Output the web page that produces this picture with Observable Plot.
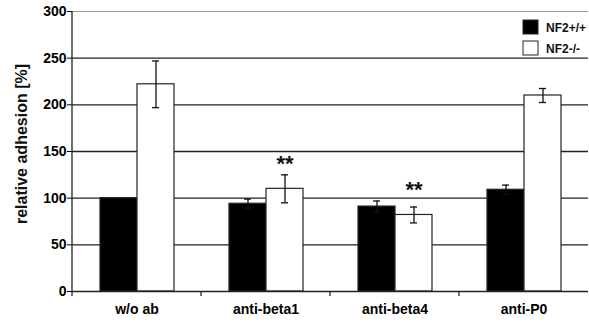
<!DOCTYPE html>
<html>
<head>
<meta charset="utf-8">
<script src="https://cdn.jsdelivr.net/npm/d3@7"></script>
<script src="https://cdn.jsdelivr.net/npm/@observablehq/plot@0.6"></script>
<style>
  html, body { margin: 0; padding: 0; background: #fff; }
  svg { display: block; }
</style>
</head>
<body>
<div id="chart"></div>
<script>
const categories = ["w/o ab", "anti-beta1", "anti-beta4", "anti-P0"];
const genotypes = ["NF2+/+", "NF2-/-"];
const wildValues = [100, 94, 91, 109];
const wildErrors = [0, 5, 6, 5];
const nullValues = [222, 110, 82, 210];
const nullErrors = [25, 15, 8.5, 7.5];
const significance = [null, "**", "**", null];
const yTicks = [0, 50, 100, 150, 200, 250, 300];
const yLabel = "relative adhesion [%]";
const genoColors = ["#000000", "#ffffff"];

const data = [];
categories.forEach((c, i) => {
  data.push({cat: c, geno: genotypes[0], value: wildValues[i], err: wildErrors[i]});
  data.push({cat: c, geno: genotypes[1], value: nullValues[i], err: nullErrors[i]});
});
const sig = categories.map((c, i) => ({cat: c, geno: genotypes[1], value: nullValues[i], label: significance[i]})).filter(d => d.label);

const font = "Liberation Sans, Arial, sans-serif";

const chart = Plot.plot({
  width: 589,
  height: 323,
  marginLeft: 71,
  marginRight: 1,
  marginTop: 11,
  marginBottom: 32,
  style: {fontFamily: font, fontWeight: "bold", background: "#fff"},
  fx: {domain: categories, padding: 0, label: null},
  x: {domain: genotypes, paddingInner: 0, paddingOuter: 0.7, axis: null},
  y: {domain: [0, 300], label: null},
  color: {domain: genotypes, range: genoColors},
  marks: [
    Plot.gridY(yTicks.filter(t => t > 0 && t < 300), {stroke: "#222", strokeOpacity: 1, strokeWidth: 1.3}),
    Plot.gridY([300], {stroke: "#999", strokeOpacity: 1, strokeWidth: 1.2}),
    Plot.barY(data, {fx: "cat", x: "geno", y: "value", fill: "geno", stroke: "#222", strokeWidth: 1.2}),
    Plot.ruleX(data.filter(d => d.err > 0), {fx: "cat", x: "geno", y1: d => d.value - d.err, y2: d => d.value + d.err, stroke: "#111", strokeWidth: 1.3}),
    Plot.tickY(data.filter(d => d.err > 0), {fx: "cat", x: "geno", y: d => d.value - d.err, insetLeft: 15, insetRight: 15, stroke: "#111", strokeWidth: 1.3}),
    Plot.tickY(data.filter(d => d.err > 0), {fx: "cat", x: "geno", y: d => d.value + d.err, insetLeft: 15, insetRight: 15, stroke: "#111", strokeWidth: 1.3}),
    Plot.text(sig, {fx: "cat", x: "geno", y: "value", text: "label", dy: -18, fontSize: 22, fontWeight: "bold", fill: "#111", lineAnchor: "bottom"}),
    Plot.ruleY([0], {stroke: "#222", strokeWidth: 1.3}),
    Plot.axisY({ticks: yTicks, tickSize: 5, tickPadding: 1, fontSize: 14, fontWeight: "bold", label: null, tickFormat: d => d}),
    Plot.axisFx({anchor: "bottom", tickSize: 0, tickPadding: 13, fontSize: 14, fontWeight: "bold", label: null})
  ]
});

document.getElementById("chart").appendChild(chart);

const svg = d3.select(chart);

// axis line and group-boundary ticks using the plot's own scales
const fx = chart.scale("fx");
const y = chart.scale("y");
const y0 = y.apply(0), yTop = y.apply(300);
const left = fx.apply(categories[0]);
svg.append("line").attr("x1", left).attr("x2", left).attr("y1", yTop).attr("y2", y0 + 5)
  .attr("stroke", "#222").attr("stroke-width", 1.3);
categories.slice(1).forEach(c => {
  const xb = fx.apply(c);
  svg.append("line").attr("x1", xb).attr("x2", xb).attr("y1", y0).attr("y2", y0 + 5)
    .attr("stroke", "#222").attr("stroke-width", 1.3);
});

// y-axis title
svg.append("text").attr("transform", "translate(21,144) rotate(-90)")
  .attr("text-anchor", "middle").attr("dominant-baseline", "central")
  .attr("font-family", font).attr("font-weight", "bold").attr("font-size", 16)
  .attr("fill", "#111").text(yLabel);

// legend inside the plot, top right
const lg = svg.append("g").attr("font-family", font).attr("font-weight", "bold")
  .attr("font-size", 12).attr("text-anchor", "start");
genotypes.forEach((g, i) => {
  lg.append("rect").attr("x", 523).attr("y", 20 + i * 21).attr("width", 15).attr("height", 14)
    .attr("fill", genoColors[i]).attr("stroke", "#222").attr("stroke-width", 1);
  lg.append("text").attr("x", 546).attr("y", 31.5 + i * 21).attr("fill", "#111").text(g);
});
</script>
</body>
</html>
